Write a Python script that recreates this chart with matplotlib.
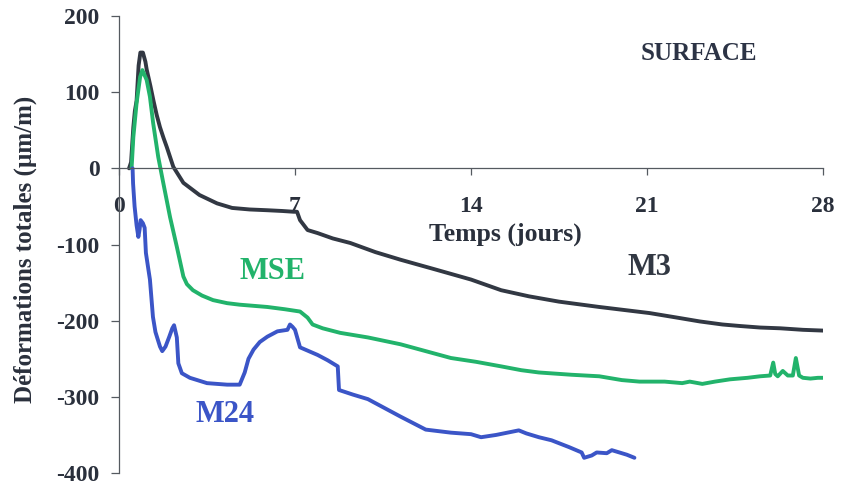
import numpy as np
import matplotlib
matplotlib.use("Agg")
import matplotlib.pyplot as plt

plt.rcParams['font.family'] = ['Liberation Serif', 'DejaVu Serif']
plt.rcParams['font.weight'] = 'bold'
plt.rcParams['axes.unicode_minus'] = False

# Deformation histories (days, µm/m) for the three gauges at the surface
m3_days = [0.40, 0.48, 0.57, 0.63, 0.70, 0.78, 0.85, 0.95, 1.05, 1.10, 1.25, 1.37,
           1.50, 1.63, 1.77, 1.90, 2.16, 2.56, 3.20, 3.90, 4.50, 5.20, 5.90, 6.50,
           6.95, 7.08, 7.20, 7.50, 7.90, 8.50, 9.20, 10.20, 11.20, 12.50, 14.00,
           15.20, 16.30, 17.50, 19.10, 21.10, 22.20, 23.10, 24.00, 24.70, 25.50,
           26.30, 27.20, 28.00]
m3_vals = [0, 8, 54, 75, 89, 135, 152, 152, 140, 130, 108, 89,
           70, 54, 40, 28, 2, -19, -35, -46, -52, -54, -55, -56,
           -57, -57, -68, -81, -85, -92, -98, -110, -120, -132, -146,
           -160, -168, -175, -182, -190, -196, -201, -205, -207, -209,
           -210, -212, -213]

mse_days = [0.50, 0.57, 0.70, 0.84, 0.93, 1.10, 1.23, 1.36, 1.56, 1.76, 2.03, 2.30,
            2.56, 2.70, 2.94, 3.30, 3.74, 4.30, 4.80, 5.90, 6.60, 7.20, 7.50, 7.70,
            8.10, 8.80, 9.90, 11.20, 12.20, 13.20, 14.20, 15.20, 16.00, 16.70,
            18.00, 19.10, 20.00, 20.70, 21.70, 22.40, 22.70, 23.20, 23.70, 24.30,
            25.00, 25.50, 25.90, 26.02, 26.10, 26.20, 26.40, 26.60, 26.80, 26.92,
            27.05, 27.20, 27.50, 27.80, 28.00]
mse_vals = [0, 41, 86, 120, 129, 116, 94, 59, 15, -19, -64, -103,
            -142, -152, -160, -167, -173, -177, -179, -182, -185, -188, -196, -205,
            -210, -216, -222, -231, -240, -249, -254, -260, -265, -268,
            -271, -273, -278, -280, -280, -282, -280, -283, -280, -277,
            -275, -273, -272, -255, -270, -273, -266, -272, -272, -249,
            -272, -275, -276, -275, -275]

m24_days = [0.54, 0.56, 0.62, 0.70, 0.77, 0.82, 0.86, 0.95, 1.02, 1.07, 1.17, 1.23,
            1.35, 1.45, 1.63, 1.72, 1.85, 2.00, 2.12, 2.19, 2.30, 2.36, 2.50, 2.82,
            3.50, 4.30, 4.80, 5.00, 5.15, 5.35, 5.60, 5.90, 6.30, 6.70, 6.80, 6.90,
            7.00, 7.20, 7.90, 8.30, 8.70, 8.75, 9.30, 9.90, 11.20, 12.20, 13.20,
            14.00, 14.40, 15.00, 15.60, 15.90, 16.20, 16.70, 17.20, 17.90, 18.40,
            18.50, 18.80, 19.00, 19.40, 19.60, 19.90, 20.20, 20.50]
m24_vals = [0, -20, -50, -75, -90, -80, -68, -72, -78, -111, -133, -146,
            -195, -215, -234, -240, -234, -221, -210, -206, -222, -256, -269, -275,
            -282, -284, -284, -268, -250, -238, -228, -221, -214, -212, -205, -208,
            -212, -235, -245, -252, -260, -291, -297, -303, -326, -343, -347,
            -349, -353, -350, -346, -344, -348, -353, -357, -366, -373,
            -380, -377, -373, -374, -370, -373, -376, -380]

x_ticks = [0, 7, 14, 21, 28]
y_ticks = [-400, -300, -200, -100, 0, 100, 200]

black = '#323843'
green = '#22b36b'
blue = '#3b55c7'
ink = '#2a303c'
axis_grey = '#555a60'

fig = plt.figure(figsize=(8.41, 4.88), dpi=100)
ax = fig.add_axes([0.1415, 0.0307, 0.8371, 0.9365])

for days, vals, col in [(m3_days, m3_vals, black),
                        (mse_days, mse_vals, green),
                        (m24_days, m24_vals, blue)]:
    ax.plot(days, vals, color=col, lw=2.8, solid_joinstyle='round',
            solid_capstyle='round')

ax.set_xlim(0, 28)
ax.set_ylim(-400, 200)

for side in ['top', 'right']:
    ax.spines[side].set_visible(False)
ax.spines['bottom'].set_position(('data', 0))
for side in ['left', 'bottom']:
    ax.spines[side].set_color(axis_grey)
    ax.spines[side].set_linewidth(0.9)

ax.set_xticks(x_ticks)
ax.set_yticks(y_ticks)
ax.tick_params(axis='x', direction='out', length=5, width=0.9, color=axis_grey,
               pad=15, labelsize=17, labelcolor=ink)
ax.tick_params(axis='y', direction='out', length=6, width=0.9, color=axis_grey,
               pad=8, labelsize=17, labelcolor=ink)
for lbl in ax.get_xticklabels() + ax.get_yticklabels():
    lbl.set_fontweight('bold')

ax.set_ylabel('Déformations totales (µm/m)', fontsize=18, fontweight='bold', color=ink)
ax.yaxis.set_label_coords(-0.1165, 0.49)

ax.text(15.35, -87, 'Temps (jours)', fontsize=18.5, fontweight='bold', color=ink,
        ha='center', va='center')
ax.text(23.07, 151, 'SURFACE', fontsize=18, fontweight='bold', color='#2c3345',
        ha='center', va='center')
ax.text(21.1, -130, 'M3', fontsize=22, fontweight='bold', color=black,
        ha='center', va='center')
ax.text(6.1, -135, 'MSE', fontsize=22, fontweight='bold', color=green,
        ha='center', va='center')
ax.text(4.2, -323, 'M24', fontsize=22, fontweight='bold', color=blue,
        ha='center', va='center')

fig.savefig('out.png', dpi=100)
